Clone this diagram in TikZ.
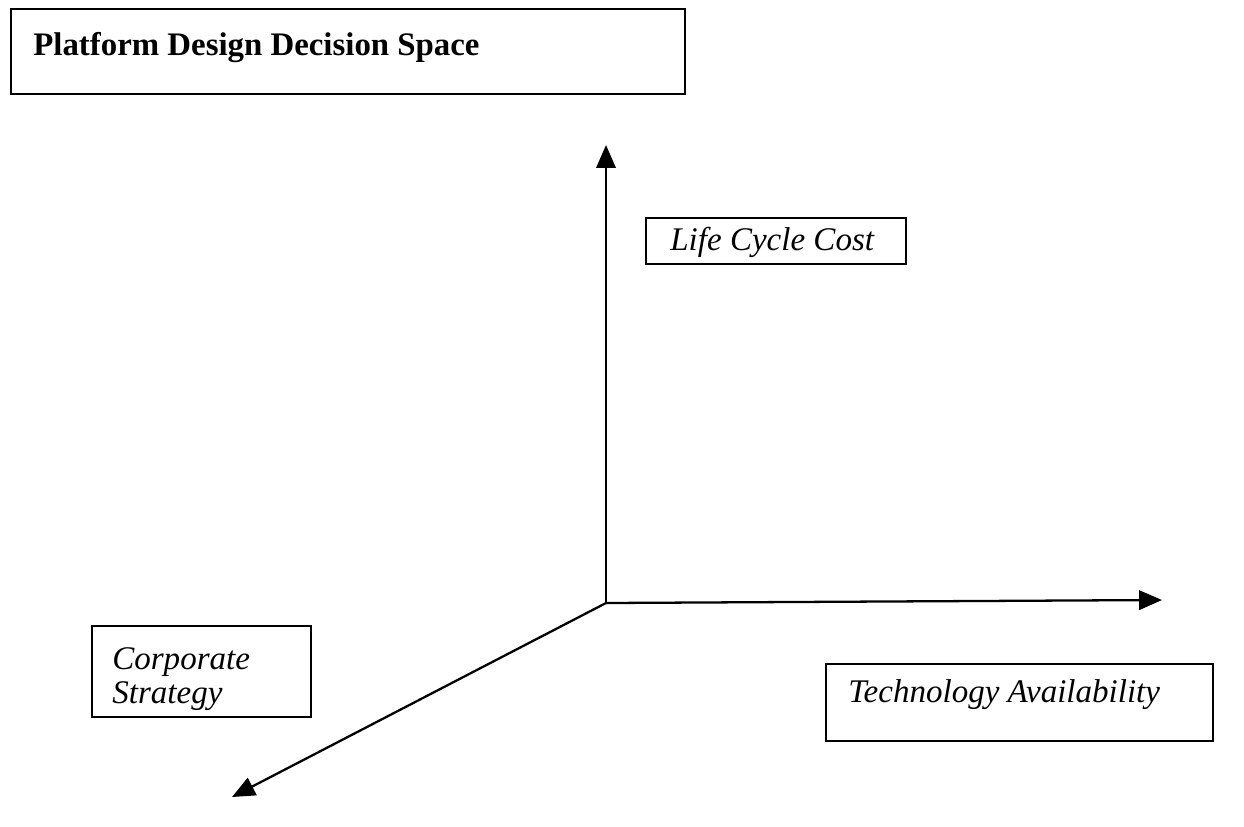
\documentclass[tikz,border=0pt]{standalone}
\usepackage{fontspec}
\setmainfont{Liberation Serif}
\usetikzlibrary{arrows.meta}
\begin{document}
\begin{tikzpicture}[x=0.02cm,y=-0.02cm,
  box/.style={draw,line width=0.9pt,inner sep=0pt,anchor=north west},
  lbl/.style={font=\fontsize{18.8}{22}\selectfont\itshape,anchor=west,inner sep=0pt},
  axis/.style={line width=1.3pt,-{Triangle[length=13pt,width=11pt]}}]
\useasboundingbox (0,0) rectangle (1244,826);
% title
\node[box,minimum width=674*0.02cm,minimum height=85*0.02cm] (titlebox) at (10,8) {};
\node[font=\fontsize{18.7}{22}\selectfont\bfseries,anchor=west,inner sep=0pt] (title) at (33,48) {Platform Design Decision Space};
% axes
\coordinate (O) at (606,603);
\coordinate (up) at (606,145);
\coordinate (right) at (1162,600);
\coordinate (diag) at (232,797);
\draw[axis] (O) -- (up);
\draw[axis] (O) -- (right);
\draw[axis] (O) -- (diag);
% labels
\node[box,minimum width=260*0.02cm,minimum height=46*0.02cm] (lccbox) at (645,217) {};
\node[lbl] (lcc) at (670,242) {Life Cycle Cost};
\node[box,minimum width=219*0.02cm,minimum height=91*0.02cm] (csbox) at (91,625) {};
\node[lbl] (cs1) at (112,662) {Corporate};
\node[lbl] (cs2) at (112,696) {Strategy};
\node[box,minimum width=387*0.02cm,minimum height=77*0.02cm] (tabox) at (825,663) {};
\node[lbl] (ta) at (848,695) {Technology Availability};
\end{tikzpicture}
\end{document}
